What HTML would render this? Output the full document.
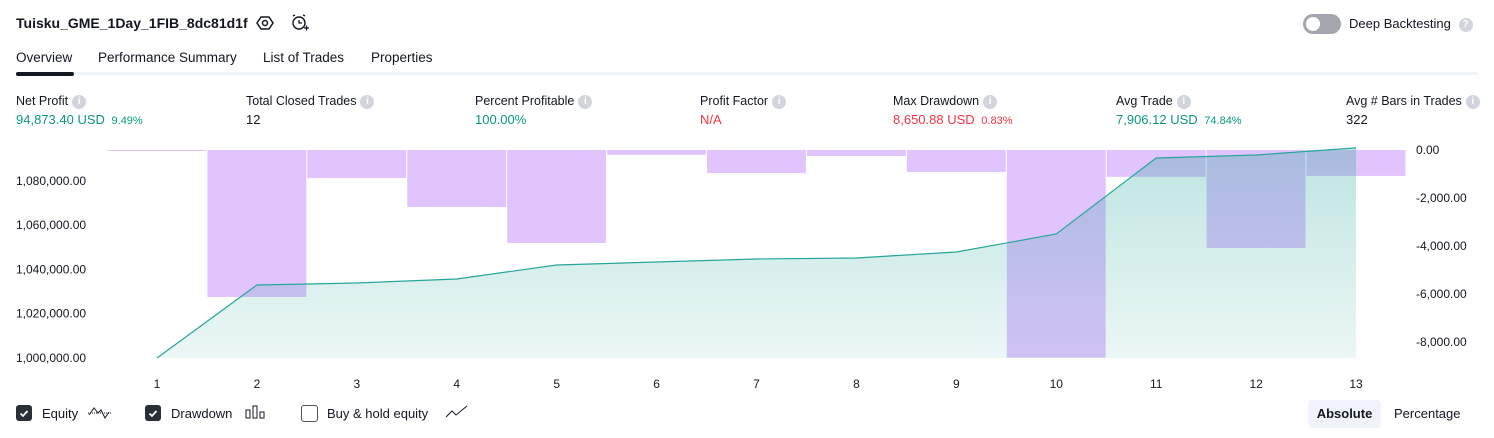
<!DOCTYPE html>
<html><head><meta charset="utf-8"><style>
body{margin:0;width:1494px;height:438px;background:#fff;font-family:"Liberation Sans",sans-serif;color:#131722;position:relative;overflow:hidden}
.a{position:absolute;white-space:nowrap}
.info{display:inline-block;width:14px;height:14px;border-radius:50%;background:#d1d4dc;color:#fff;font-size:10px;text-align:center;line-height:14px;vertical-align:middle;margin-left:4px;font-weight:bold}
.lbl{font-size:12.5px;color:#131722}
.val{font-size:13px}
.g{color:#089981}.r{color:#f23645}
.cb{position:absolute;width:16px;height:16px;border-radius:3px;top:405px}
</style></head><body>
<div class="a" style="left:16px;top:15px;font-size:14px;font-weight:bold">Tuisku_GME_1Day_1FIB_8dc81d1f</div>
<svg class="a" style="left:256px;top:14px" width="18" height="18"><polygon points="5,3 13,3 17,9 13,15 5,15 1,9" fill="none" stroke="#131722" stroke-width="1.5"/><circle cx="9" cy="9" r="2.5" fill="none" stroke="#131722" stroke-width="1.5"/></svg>
<svg class="a" style="left:290px;top:13px" width="20" height="20"><circle cx="9" cy="10" r="6" fill="none" stroke="#131722" stroke-width="1.4"/><path d="M9 7v3h3M3 3l2-1M15 3l-2-1M14 15h5M16.5 12.5v5" stroke="#131722" stroke-width="1.3" fill="none"/></svg>
<div class="a" style="left:1303px;top:14px;width:38px;height:20px;border-radius:10px;background:#a3a6af"><div style="position:absolute;left:3px;top:3px;width:14px;height:14px;border-radius:50%;background:#fff"></div></div>
<div class="a" style="left:1349px;top:16px;font-size:13px">Deep Backtesting <span class="info">?</span></div>
<div class="a" style="left:16px;top:50px;font-size:13.5px">Overview</div>
<div class="a" style="left:98px;top:50px;font-size:13.5px">Performance Summary</div>
<div class="a" style="left:263px;top:50px;font-size:13.5px">List of Trades</div>
<div class="a" style="left:371px;top:50px;font-size:13.5px">Properties</div>
<div class="a" style="left:16px;top:72px;width:1462px;height:3px;background:#f0f3fa"></div>
<div class="a" style="left:16px;top:72px;width:58px;height:4px;border-radius:2px;background:#131722"></div>

<div class="a" style="left:16px;top:94px"><div class="lbl">Net Profit<span class="info">i</span></div><div class="val g" style="margin-top:3px">94,873.40 USD <span style="font-size:11px;margin-left:3px">9.49%</span></div></div>
<div class="a" style="left:246px;top:94px"><div class="lbl">Total Closed Trades<span class="info">i</span></div><div class="val" style="margin-top:3px">12</div></div>
<div class="a" style="left:475px;top:94px"><div class="lbl">Percent Profitable<span class="info">i</span></div><div class="val g" style="margin-top:3px">100.00%</div></div>
<div class="a" style="left:700px;top:94px"><div class="lbl">Profit Factor<span class="info">i</span></div><div class="val r" style="margin-top:3px">N/A</div></div>
<div class="a" style="left:893px;top:94px"><div class="lbl">Max Drawdown<span class="info">i</span></div><div class="val r" style="margin-top:3px">8,650.88 USD <span style="font-size:11px;margin-left:3px">0.83%</span></div></div>
<div class="a" style="left:1116px;top:94px"><div class="lbl">Avg Trade<span class="info">i</span></div><div class="val g" style="margin-top:3px">7,906.12 USD <span style="font-size:11px;margin-left:3px">74.84%</span></div></div>
<div class="a" style="left:1346px;top:94px"><div class="lbl">Avg # Bars in Trades<span class="info">i</span></div><div class="val" style="margin-top:3px">322</div></div>

<svg id="chart" class="a" style="left:0;top:0" width="1494" height="400"></svg>

<div class="cb" style="left:16px;background:#2a2e39"><svg width="16" height="16"><path d="M4.5 8.5l2.5 2.5 4.5-5" stroke="#fff" stroke-width="1.8" fill="none"/></svg></div>
<div class="a" style="left:42px;top:406px;font-size:13px">Equity</div>
<svg class="a" style="left:87px;top:404px" width="26" height="16"><path d="M1 9h24" stroke="#131722" stroke-dasharray="1 1"/><path d="M2 11l5-7 4 5 3-3 4 8 4-6" stroke="#131722" fill="none"/></svg>
<div class="cb" style="left:145px;background:#2a2e39"><svg width="16" height="16"><path d="M4.5 8.5l2.5 2.5 4.5-5" stroke="#fff" stroke-width="1.8" fill="none"/></svg></div>
<div class="a" style="left:171px;top:406px;font-size:13px">Drawdown</div>
<svg class="a" style="left:245px;top:405px" width="22" height="14"><rect x="1" y="5" width="4" height="8" fill="none" stroke="#131722"/><rect x="8" y="1" width="4" height="12" fill="none" stroke="#131722"/><rect x="15" y="7" width="4" height="6" fill="none" stroke="#131722"/></svg>
<div class="cb" style="left:301px;border:1.3px solid #50535e;width:15px;height:15px"></div>
<div class="a" style="left:327px;top:406px;font-size:13px">Buy &amp; hold equity</div>
<svg class="a" style="left:445px;top:404px" width="24" height="16"><path d="M1 13l6-6 4 4 11-9" stroke="#131722" fill="none"/></svg>
<div class="a" style="left:1308px;top:400px;width:73px;height:28px;border-radius:4px;background:#f0f3fa;font-size:13px;font-weight:bold;text-align:center;line-height:28px">Absolute</div>
<div class="a" style="left:1394px;top:406px;font-size:13px">Percentage</div>

<script>
const categories=[1,2,3,4,5,6,7,8,9,10,11,12,13];
const equity=[1000000,1032960,1033860,1035670,1042000,1043340,1044700,1045150,1047860,1056000,1090300,1091650,1094873];
const drawdown=[-30,-6125,-1170,-2375,-3875,-200,-960,-250,-920,-8650,-1120,-4080,-1080];
const leftTicks=[1000000,1020000,1040000,1060000,1080000];
const rightTicks=[0,-2000,-4000,-6000,-8000];
const NS="http://www.w3.org/2000/svg";
const svg=document.getElementById('chart');
const xS=i=>157+i*99.92;
const yL=v=>358-(v-1000000)/20000*44.3;
const yR=v=>150-v/1000*24;
function mk(t,a){const e=document.createElementNS(NS,t);for(const k in a)e.setAttribute(k,a[k]);svg.appendChild(e);return e;}
const defs=mk('defs',{});
defs.innerHTML='<linearGradient id="gf" x1="0" y1="0" x2="0" y2="1"><stop offset="0" stop-color="rgb(38,166,154)" stop-opacity="0.3"/><stop offset="1" stop-color="rgb(38,166,154)" stop-opacity="0.09"/></linearGradient>';
drawdown.forEach((v,i)=>{
  const r=mk('rect',{x:xS(i)-49.5,y:150,width:98.9,height:Math.max(1,yR(v)-150),fill:'#e1c4fd'});
  
  
});
let d='M'+xS(0)+' '+yL(equity[0]);
equity.forEach((v,i)=>{d+=' L'+xS(i)+' '+yL(v);});
const area=mk('path',{d:d+' L'+xS(equity.length-1)+' 358 L'+xS(0)+' 358 Z',fill:'url(#gf)'});


const line=mk('path',{d:d,fill:'none',stroke:'#26a69a','stroke-width':1.2});


leftTicks.forEach(v=>{
  const t=mk('text',{x:16,y:yL(v)+4,'font-size':12,fill:'#131722','font-family':'Liberation Sans'});
  t.textContent=v.toLocaleString('en-US',{minimumFractionDigits:2});
  
  
});
rightTicks.forEach(v=>{
  const t=mk('text',{x:1416,y:yR(v)+4,'font-size':12,fill:'#131722','font-family':'Liberation Sans'});
  t.textContent=v.toLocaleString('en-US',{minimumFractionDigits:2});
  
  
});
categories.forEach((c,i)=>{
  const t=mk('text',{x:xS(i),y:388,'font-size':12,fill:'#131722','text-anchor':'middle','font-family':'Liberation Sans'});
  t.textContent=c;
  
  
});
</script>
</body></html>
